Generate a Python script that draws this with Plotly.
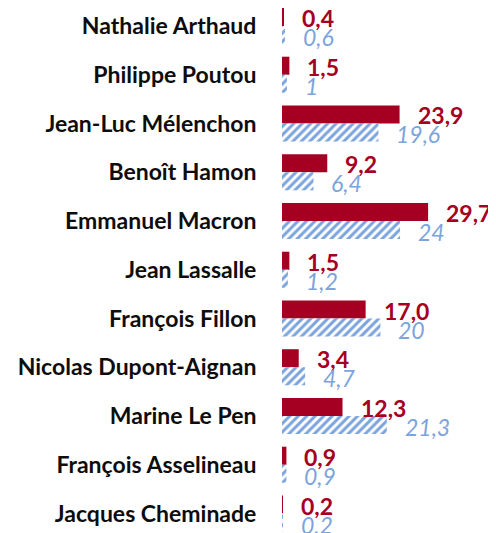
import plotly.graph_objects as go

candidates = ["Nathalie Arthaud", "Philippe Poutou", "Jean-Luc Mélenchon", "Benoît Hamon",
              "Emmanuel Macron", "Jean Lassalle", "François Fillon", "Nicolas Dupont-Aignan",
              "Marine Le Pen", "François Asselineau", "Jacques Cheminade"]
red_values = [0.4, 1.5, 23.9, 9.2, 29.7, 1.5, 17.0, 3.4, 12.3, 0.9, 0.2]
blue_values = [0.6, 1, 19.6, 6.4, 24, 1.2, 20, 4.7, 21.3, 0.9, 0.2]

RED = "#A50021"
BLUE = "#7BA4DD"

red_text = [f"{v:.1f}".replace(".", ",") for v in red_values]
blue_text = [f"{v:g}".replace(".", ",") for v in blue_values]

fig = go.Figure()
fig.add_trace(go.Bar(y=candidates, x=red_values, orientation="h", name="red",
                     marker=dict(color=RED, line=dict(width=0))))
fig.add_trace(go.Bar(y=candidates, x=blue_values, orientation="h", name="blue",
                     marker=dict(color="white", line=dict(width=0),
                                 pattern=dict(shape="/", fgcolor=BLUE, bgcolor="white",
                                              size=6, solidity=0.5, fillmode="replace"))))

for c, v, t in zip(candidates, red_values, red_text):
    fig.add_annotation(x=v, y=c, text=t, showarrow=False, xanchor="left", yanchor="middle",
                       xshift=16, yshift=8,
                       font=dict(family="Lato", size=23, color=RED, weight="bold"))
for c, v, t in zip(candidates, blue_values, blue_text):
    fig.add_annotation(x=v, y=c, text=t, showarrow=False, xanchor="left", yanchor="middle",
                       xshift=16, yshift=-11,
                       font=dict(family="Lato", size=23, color=BLUE, style="italic"))

fig.update_layout(
    width=488, height=525,
    margin=dict(l=274, r=0, t=0, b=0, autoexpand=False),
    paper_bgcolor="white", plot_bgcolor="white",
    barmode="group", bargap=0.26, bargroupgap=0.0,
    showlegend=False,
    xaxis=dict(range=[0, 43.5], visible=False, showgrid=False, zeroline=False, automargin=False),
    yaxis=dict(range=[10.4, -0.369], showgrid=False, zeroline=False, showline=False,
               automargin=False,
               ticks="outside", ticklen=20, tickcolor="rgba(0,0,0,0)",
               tickfont=dict(family="Lato", size=23, color="#0D0D0D", weight="bold")),
)

fig.write_html("out.html")
